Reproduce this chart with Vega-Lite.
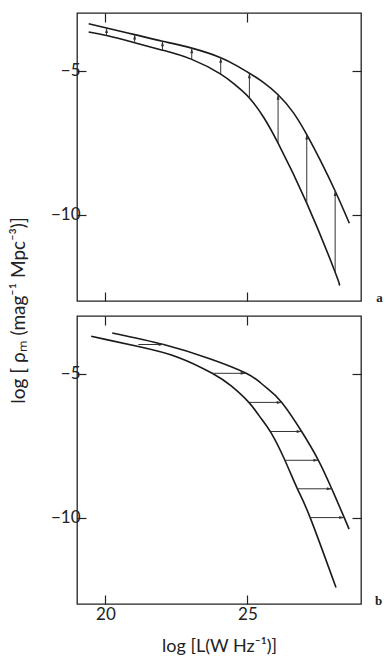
{
  "$schema": "https://vega.github.io/schema/vega-lite/v6.json",
  "background": "white",
  "padding": {"left": 8, "top": 11, "right": 0, "bottom": 5},
  "spacing": 15,
  "bounds": "flush",
  "datasets": {
    "curvesA": [
      {"curve": "lower", "logL": 19.41, "logRho": -3.66},
      {"curve": "lower", "logL": 20.04, "logRho": -3.78},
      {"curve": "lower", "logL": 21.03, "logRho": -4.03},
      {"curve": "lower", "logL": 22.01, "logRho": -4.29},
      {"curve": "lower", "logL": 23.04, "logRho": -4.61},
      {"curve": "lower", "logL": 24.06, "logRho": -5.12},
      {"curve": "lower", "logL": 24.6, "logRho": -5.52},
      {"curve": "lower", "logL": 25.07, "logRho": -5.95},
      {"curve": "lower", "logL": 25.57, "logRho": -6.62},
      {"curve": "lower", "logL": 26.08, "logRho": -7.52},
      {"curve": "lower", "logL": 27.09, "logRho": -9.6},
      {"curve": "lower", "logL": 28.09, "logRho": -12.0},
      {"curve": "lower", "logL": 28.22, "logRho": -12.42},
      {"curve": "upper", "logL": 19.41, "logRho": -3.37},
      {"curve": "upper", "logL": 20.04, "logRho": -3.52},
      {"curve": "upper", "logL": 21.03, "logRho": -3.75},
      {"curve": "upper", "logL": 22.01, "logRho": -3.98},
      {"curve": "upper", "logL": 23.04, "logRho": -4.22},
      {"curve": "upper", "logL": 24.06, "logRho": -4.55},
      {"curve": "upper", "logL": 24.6, "logRho": -4.82},
      {"curve": "upper", "logL": 25.07, "logRho": -5.09},
      {"curve": "upper", "logL": 25.55, "logRho": -5.4},
      {"curve": "upper", "logL": 26.08, "logRho": -5.84},
      {"curve": "upper", "logL": 26.61, "logRho": -6.45},
      {"curve": "upper", "logL": 27.09, "logRho": -7.22},
      {"curve": "upper", "logL": 27.56, "logRho": -8.1},
      {"curve": "upper", "logL": 28.09, "logRho": -9.18},
      {"curve": "upper", "logL": 28.59, "logRho": -10.3}
    ],
    "arrowsA": [
      {"logL": 20.04, "from": -3.78, "to": -3.52},
      {"logL": 21.03, "from": -4.03, "to": -3.75},
      {"logL": 22.01, "from": -4.29, "to": -3.98},
      {"logL": 23.04, "from": -4.61, "to": -4.22},
      {"logL": 24.06, "from": -5.12, "to": -4.55},
      {"logL": 25.07, "from": -5.95, "to": -5.09},
      {"logL": 26.08, "from": -7.52, "to": -5.84},
      {"logL": 27.09, "from": -9.6, "to": -7.22},
      {"logL": 28.09, "from": -12.0, "to": -9.18}
    ],
    "curvesB": [
      {"curve": "lower", "logL": 19.5, "logRho": -3.7},
      {"curve": "lower", "logL": 20.04, "logRho": -3.82},
      {"curve": "lower", "logL": 21.16, "logRho": -4.06},
      {"curve": "lower", "logL": 22.52, "logRho": -4.42},
      {"curve": "lower", "logL": 23.76, "logRho": -4.99},
      {"curve": "lower", "logL": 24.43, "logRho": -5.43},
      {"curve": "lower", "logL": 25.05, "logRho": -6.0},
      {"curve": "lower", "logL": 25.41, "logRho": -6.46},
      {"curve": "lower", "logL": 25.83, "logRho": -7.05},
      {"curve": "lower", "logL": 26.32, "logRho": -8.01},
      {"curve": "lower", "logL": 26.76, "logRho": -9.0},
      {"curve": "lower", "logL": 27.21, "logRho": -10.0},
      {"curve": "lower", "logL": 28.12, "logRho": -12.43},
      {"curve": "upper", "logL": 20.24, "logRho": -3.59},
      {"curve": "upper", "logL": 22.05, "logRho": -3.99},
      {"curve": "upper", "logL": 23.7, "logRho": -4.49},
      {"curve": "upper", "logL": 24.94, "logRho": -4.98},
      {"curve": "upper", "logL": 25.44, "logRho": -5.3},
      {"curve": "upper", "logL": 25.71, "logRho": -5.52},
      {"curve": "upper", "logL": 26.21, "logRho": -6.0},
      {"curve": "upper", "logL": 26.91, "logRho": -7.01},
      {"curve": "upper", "logL": 27.5, "logRho": -8.01},
      {"curve": "upper", "logL": 27.97, "logRho": -9.0},
      {"curve": "upper", "logL": 28.41, "logRho": -10.0},
      {"curve": "upper", "logL": 28.58, "logRho": -10.4}
    ],
    "arrowsB": [
      {"logRho": -3.99, "from": 21.16, "to": 22.05},
      {"logRho": -4.99, "from": 23.76, "to": 24.94},
      {"logRho": -6.0, "from": 25.05, "to": 26.21},
      {"logRho": -7.01, "from": 25.83, "to": 26.91},
      {"logRho": -8.01, "from": 26.32, "to": 27.5},
      {"logRho": -9.0, "from": 26.76, "to": 27.97},
      {"logRho": -10.0, "from": 27.21, "to": 28.41}
    ]
  },
  "vconcat": [
    {
      "width": 284,
      "height": 288,
      "layer": [
        {
          "data": {"name": "curvesA"},
          "mark": {"type": "line", "interpolate": "natural", "color": "#1a1a1a", "strokeWidth": 1.6},
          "encoding": {
            "x": {"field": "logL", "type": "quantitative", "scale": {"domain": [19, 29], "nice": false, "zero": false},
                  "axis": {"orient": "bottom", "values": [20, 25], "labels": false, "title": null}},
            "y": {"field": "logRho", "type": "quantitative", "scale": {"domain": [-13, -3], "nice": false, "zero": false},
                  "axis": {"orient": "left", "values": [-5, -10], "title": "log [ ρₘ (mag⁻¹ Mpc⁻³)]", "titleY": 297, "titleFontSize": 19, "titlePadding": 22}},
            "detail": {"field": "curve"},
            "order": {"field": "logL"}
          }
        },
        {
          "data": {"name": "arrowsA"},
          "mark": {"type": "rule", "color": "#333", "strokeWidth": 1},
          "encoding": {
            "x": {"field": "logL", "type": "quantitative", "axis": {"orient": "top", "values": [20, 25], "labels": false, "title": null}},
            "y": {"field": "from", "type": "quantitative",
                  "axis": {"orient": "right", "values": [-5, -10], "labels": false, "title": "a", "titleAngle": 0, "titleX": 18, "titleY": 284,
                           "titleFont": "Liberation Serif", "titleFontWeight": "bold", "titleFontSize": 13, "titleAlign": "center", "titleBaseline": "middle"}},
            "y2": {"field": "to"}
          }
        },
        {
          "data": {"name": "arrowsA"},
          "mark": {"type": "point", "shape": "M0,0L-0.6,2L0.6,2Z", "filled": true, "color": "#333", "size": 25, "opacity": 1},
          "encoding": {
            "x": {"field": "logL", "type": "quantitative", "axis": null},
            "y": {"field": "to", "type": "quantitative", "axis": null}
          }
        }
      ],
      "resolve": {"axis": {"x": "independent", "y": "independent"}}
    },
    {
      "width": 284,
      "height": 288,
      "layer": [
        {
          "data": {"name": "curvesB"},
          "mark": {"type": "line", "interpolate": "natural", "color": "#1a1a1a", "strokeWidth": 1.6},
          "encoding": {
            "x": {"field": "logL", "type": "quantitative", "scale": {"domain": [19, 29], "nice": false, "zero": false},
                  "axis": {"orient": "bottom", "values": [20, 25], "title": "log [L(W Hz⁻¹)]", "titleFontSize": 18, "labelPadding": 11, "titlePadding": 15}},
            "y": {"field": "logRho", "type": "quantitative", "scale": {"domain": [-13, -3], "nice": false, "zero": false},
                  "axis": {"orient": "left", "values": [-5, -10], "title": null}},
            "detail": {"field": "curve"},
            "order": {"field": "logL"}
          }
        },
        {
          "data": {"name": "arrowsB"},
          "mark": {"type": "rule", "color": "#333", "strokeWidth": 1},
          "encoding": {
            "x": {"field": "from", "type": "quantitative", "axis": {"orient": "top", "values": [20, 25], "labels": false, "title": null}},
            "x2": {"field": "to"},
            "y": {"field": "logRho", "type": "quantitative",
                  "axis": {"orient": "right", "values": [-5, -10], "labels": false, "title": "b", "titleAngle": 0, "titleX": 17, "titleY": 284,
                           "titleFont": "Liberation Serif", "titleFontWeight": "bold", "titleFontSize": 13, "titleAlign": "center", "titleBaseline": "middle"}}
          }
        },
        {
          "data": {"name": "arrowsB"},
          "mark": {"type": "point", "shape": "M0,0L-2,-0.6L-2,0.6Z", "filled": true, "color": "#333", "size": 25, "opacity": 1},
          "encoding": {
            "x": {"field": "to", "type": "quantitative", "axis": null},
            "y": {"field": "logRho", "type": "quantitative", "axis": null}
          }
        }
      ],
      "resolve": {"axis": {"x": "independent", "y": "independent"}}
    }
  ],
  "config": {
    "view": {"stroke": "#222", "strokeWidth": 1.3},
    "axis": {
      "grid": false, "domain": false, "tickColor": "#222", "tickSize": -9, "tickWidth": 1.2,
      "labelFont": "Lato", "labelFontSize": 17, "labelColor": "#222", "labelPadding": 6,
      "titleFont": "Lato", "titleFontSize": 16, "titleFontWeight": "normal", "titleColor": "#222", "titlePadding": 12
    }
  }
}
